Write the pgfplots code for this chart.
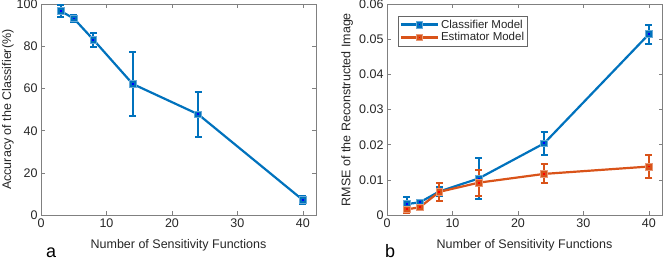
\documentclass[border=0pt]{standalone}
\usepackage{fontspec}
\setmainfont{Liberation Sans}
\usepackage{pgfplots}
\pgfplotsset{compat=1.18}
\definecolor{mblue}{RGB}{0,114,189}
\definecolor{morange}{RGB}{217,83,25}
\definecolor{axgray}{gray}{0.15}

\pgfdeclareplotmark{sqb}{%
  \pgfpathrectangle{\pgfpoint{-\pgfplotmarksize}{-\pgfplotmarksize}}{\pgfpoint{2\pgfplotmarksize}{2\pgfplotmarksize}}%
  \pgfusepathqfillstroke
  \pgfscope\pgfsetfillcolor{blue}%
  \pgfpathrectangle{\pgfpoint{-0.9pt}{-0.9pt}}{\pgfpoint{1.8pt}{1.8pt}}\pgfusepathqfill\endpgfscope}
\pgfdeclareplotmark{sqr}{%
  \pgfpathrectangle{\pgfpoint{-\pgfplotmarksize}{-\pgfplotmarksize}}{\pgfpoint{2\pgfplotmarksize}{2\pgfplotmarksize}}%
  \pgfusepathqfillstroke
  \pgfscope\pgfsetfillcolor{red}%
  \pgfpathrectangle{\pgfpoint{-0.9pt}{-0.9pt}}{\pgfpoint{1.8pt}{1.8pt}}\pgfusepathqfill\endpgfscope}

\pgfplotstableread{
x y e
3 96.8 3.0
5 93.3 1.5
8 83.2 3.4
14 62.2 15.0
24 47.8 10.8
40 7.1 2.0
}\accdata
\pgfplotstableread{
x y e
3 0.0031 0.0021
5 0.0036 0.0008
8 0.0067 0.0012
14 0.0104 0.0059
24 0.0204 0.0033
40 0.0515 0.0027
}\clsdata
\pgfplotstableread{
x y e
3 0.0016 0.0010
5 0.0022 0.0008
8 0.0066 0.0025
14 0.0092 0.0037
24 0.0117 0.0027
40 0.0138 0.0034
}\estdata

\pgfplotsset{
  myax/.style={
    scale only axis, width=275pt, height=210.7pt,
    xmin=0, xmax=42, xtick={0,10,20,30,40},
    tick align=inside, major tick length=3.5pt,
    axis line style={black!50, line width=0.6pt},
    every tick/.style={black!50, line width=0.6pt},
    font=\fontsize{12.5}{15}\selectfont,
    tick label style={text=axgray},
    label style={text=axgray},
    /pgf/number format/assume math mode=true,
    xlabel={Number of Sensitivity Functions},
    xlabel style={at={(axis description cs:0.5,0)}, anchor=center, yshift=-30pt},
    legend image code/.code={\draw[mark repeat=2,mark phase=2,#1] plot coordinates {(0pt,0pt)(18.5pt,0pt)(37pt,0pt)};},
  },
}

\begin{document}
\begin{tikzpicture}
\useasboundingbox (0,0) rectangle (664pt,261pt);
\begin{axis}[myax, at={(41pt,46pt)}, anchor=south west,
  ymin=0, ymax=100, ytick={0,20,40,60,80,100},
  ylabel={Accuracy of the Classifier(\%)},
  ylabel style={at={(axis description cs:-0.12,0.5)}, anchor=center},
]
\addplot[mblue, line width=2.2pt, mark=sqb, mark size=3.4pt,
  mark options={solid, fill=mblue, draw=mblue!60!white, line width=0.7pt},
  error bars/y dir=both, error bars/y explicit,
  error bars/error bar style={line width=2pt, mblue},
  error bars/error mark options={line width=2pt, mark size=3.5pt, mblue, rotate=90}]
  table[x=x, y=y, y error=e] {\accdata};
\end{axis}
\begin{axis}[myax, at={(387pt,46pt)}, anchor=south west,
  ymin=0, ymax=0.06, ytick={0,0.01,0.02,0.03,0.04,0.05,0.06},
  yticklabels={0,0.01,0.02,0.03,0.04,0.05,0.06},
  scaled y ticks=false,
  ylabel={RMSE of the Reconstructed Image},
  ylabel style={at={(axis description cs:-0.145,0.5)}, anchor=center},
  legend style={at={(axis description cs:0.04,0.945)}, anchor=north west,
    draw=black!60, line width=0.6pt, font=\fontsize{11.5}{13}\selectfont,
    text=axgray, inner sep=1.5pt, row sep=-1pt, cells={anchor=west}},
  legend cell align=left,
]
\addplot[mblue, line width=2.2pt, mark=sqb, mark size=3.4pt,
  mark options={solid, fill=mblue, draw=mblue!60!white, line width=0.7pt},
  error bars/y dir=both, error bars/y explicit,
  error bars/error bar style={line width=2pt, mblue},
  error bars/error mark options={line width=2pt, mark size=3.5pt, mblue, rotate=90}]
  table[x=x, y=y, y error=e] {\clsdata};
\addlegendentry{Classifier Model}
\addplot[morange, line width=2.2pt, mark=sqr, mark size=3.4pt,
  mark options={solid, fill=morange, draw=morange!60!white, line width=0.7pt},
  error bars/y dir=both, error bars/y explicit,
  error bars/error bar style={line width=2pt, morange},
  error bars/error mark options={line width=2pt, mark size=3.5pt, morange, rotate=90}]
  table[x=x, y=y, y error=e] {\estdata};
\addlegendentry{Estimator Model}
\end{axis}
\node[anchor=base west, inner sep=0, font=\fontsize{18}{20}\selectfont, text=black] at (46pt,3pt) {a};
\node[anchor=base west, inner sep=0, font=\fontsize{18}{20}\selectfont, text=black] at (385pt,3pt) {b};
\end{tikzpicture}
\end{document}
